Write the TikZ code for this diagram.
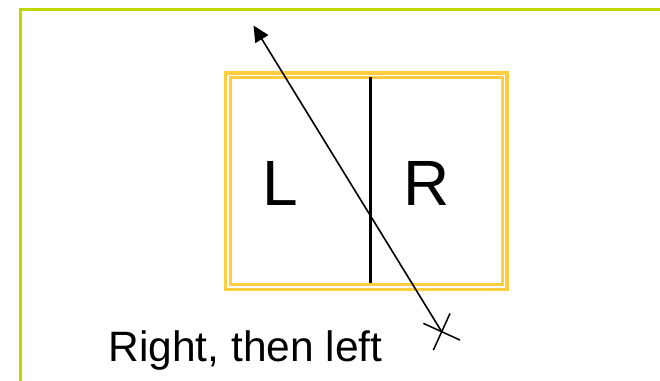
\documentclass[tikz,border=0pt]{standalone}
\usepackage{fontspec}
\setmainfont{Liberation Sans}
\usepackage{tikz}
\usetikzlibrary{arrows.meta, positioning, shapes.misc}

\definecolor{limegreen}{RGB}{192,214,0}
\definecolor{panelgold}{RGB}{255,206,64}

\tikzset{
  frameline/.style={draw=limegreen, line width=3pt},
  panel/.style={draw=panelgold, double=white, double distance=1.5pt, line width=3.2pt, rectangle, inner sep=0pt},
  letter/.style={font=\fontsize{64}{64}\selectfont, inner sep=0pt},
  ray/.style={line width=1.6pt, -{Triangle[length=16pt, width=15pt]}}
}

\begin{document}
\begin{tikzpicture}[x=1pt, y=-1pt]
  \useasboundingbox (0,0) rectangle (660,380);
  % Frame
  \draw[frameline] (20,381) -- (20,9.5) -- (661,9.5);
  % Nodes
  \node[panel, minimum width=276.7pt, minimum height=211.7pt] (box) at (366.3,181.2) {};
  \node[letter] (lhs) at (280.3,183.3) {L};
  \node[letter] (rhs) at (426.3,183.3) {R};
  \node[anchor=base west, inner sep=0pt, font=\fontsize{42.5}{42.5}\selectfont] (caption) at (108.4,361.7) {Right, then left};
  \coordinate (tail) at (441.7,331.7);
  \coordinate (head) at (253.5,25.5);
  \node[draw, cross out, rotate=20.5, minimum size=27pt, inner sep=0pt, line width=1.5pt] (tick) at (tail) {};
  % Edges
  \draw[line width=2.5pt] (370.3,76.7) -- (370.3,282.7);
  \draw[ray] (tail) -- (head);
\end{tikzpicture}
\end{document}
